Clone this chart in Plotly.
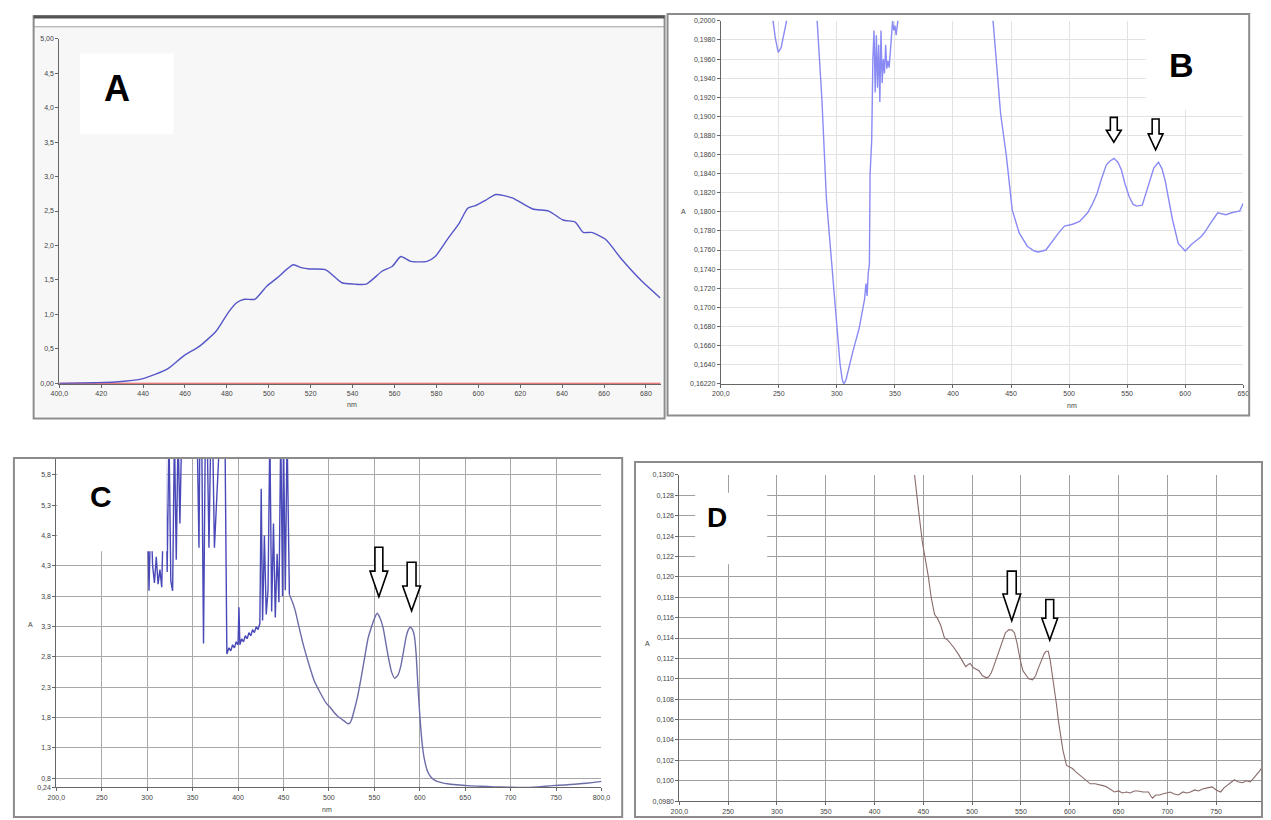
import plotly.graph_objects as go

W, H = 1271, 820

# ---------------- Panel A data ----------------
A_nm = [400, 417, 426.5, 440, 451.7, 459.4, 467, 474.9, 480.7, 484.6,
        488.4, 493.3, 499, 504, 511.6, 515.5, 519.4, 527, 534.9, 540.7,
        546.5, 554.2, 559, 563, 567.8, 575.5, 579.4, 585.2, 591, 594.9,
        598.7, 603.6, 608.4, 616.2, 625.9, 633.6, 640.4, 646.2, 650.1, 654,
        660.7, 668.4, 678.1, 686.8]
A_abs = [0, 0.01, 0.02, 0.07, 0.21, 0.40, 0.54, 0.76, 1.03, 1.17,
         1.22, 1.22, 1.41, 1.53, 1.72, 1.68, 1.66, 1.65, 1.46, 1.44,
         1.44, 1.63, 1.70, 1.84, 1.77, 1.77, 1.84, 2.09, 2.33, 2.54,
         2.58, 2.66, 2.74, 2.69, 2.53, 2.50, 2.37, 2.34, 2.19, 2.19,
         2.09, 1.80, 1.48, 1.24]
A_base_nm = [400, 687]
A_base_abs = [0, 0]
A_xticks = [400, 420, 440, 460, 480, 500, 520, 540, 560, 580, 600, 620, 640, 660, 680]
A_xtext = ["400,0", "420", "440", "460", "480", "500", "520", "540", "560", "580",
           "600", "620", "640", "660", "680"]
A_yticks = [0, 0.5, 1.0, 1.5, 2.0, 2.5, 3.0, 3.5, 4.0, 4.5, 5.0]
A_ytext = ["0,00", "0,5", "1,0", "1,5", "2,0", "2,5", "3,0", "3,5", "4,0", "4,5", "5,00"]

# ---------------- Panel B data ----------------
B_nm = [200, 240, 245, 247, 249.5, 252, 255, 257, 262, 278,
        283, 287, 291, 295, 298, 300.5, 302.6, 304.5, 306, 308,
        310.7, 314, 319, 321.5, 323.8, 325, 326, 327, 328, 328.6,
        329.5, 330, 331, 332, 333, 334, 335, 336, 337, 338,
        339, 340, 341, 342, 343, 344, 345, 346, 347, 348,
        349, 350, 351, 352, 353, 355, 360, 400, 430, 434.5,
        438, 441, 446, 451, 457, 464, 470, 473.6, 480, 486.6,
        491, 496, 503, 509, 516, 520, 524, 528, 532, 535,
        538.7, 542, 545, 548, 551.7, 555, 558, 563, 566, 569.6,
        573, 577, 580, 582.7, 586, 589, 594, 600, 605.5, 610,
        613.6, 617, 620, 624, 628, 632, 635, 640, 643, 647,
        650]
B_abs = [0.21, 0.21, 0.2000, 0.1982, 0.1967, 0.1972, 0.1990, 0.2002, 0.21, 0.21,
         0.2000, 0.1920, 0.1813, 0.1755, 0.1712, 0.1675, 0.1642, 0.1625, 0.1619, 0.1625,
         0.1640, 0.1655, 0.1677, 0.1692, 0.1708, 0.1725, 0.1712, 0.1736, 0.1745, 0.1840,
         0.1860, 0.1875, 0.1960, 0.1990, 0.1925, 0.1985, 0.1930, 0.1975, 0.1915, 0.1990,
         0.1935, 0.1960, 0.1945, 0.1975, 0.1950, 0.1958, 0.1951, 0.1965, 0.1985, 0.2000,
         0.1990, 0.1995, 0.1985, 0.1998, 0.2005, 0.21, 0.21, 0.21, 0.21, 0.2000,
         0.1950, 0.1903, 0.1858, 0.1802, 0.1778, 0.1764, 0.1759, 0.1758, 0.1760, 0.1771,
         0.1778, 0.1785, 0.1787, 0.1790, 0.1799, 0.1808, 0.1819, 0.1835, 0.1849, 0.1853,
         0.1856, 0.1852, 0.1844, 0.1830, 0.1816, 0.1808, 0.1806, 0.1807, 0.1818, 0.1833,
         0.1846, 0.1852, 0.1845, 0.1833, 0.1810, 0.1792, 0.1767, 0.1759, 0.1766, 0.1770,
         0.1774, 0.1779, 0.1785, 0.1792, 0.1799, 0.1798, 0.1797, 0.1799, 0.1800, 0.1801,
         0.1809]
B_xticks = [200, 250, 300, 350, 400, 450, 500, 550, 600, 650]
B_xtext = ["200,0", "250", "300", "350", "400", "450", "500", "550", "600", "650"]
B_yticks = [0.162 + 0.002 * i for i in range(20)]
B_ytext = ["0,16220", "0,1640", "0,1660", "0,1680", "0,1700", "0,1720", "0,1740",
           "0,1760", "0,1780", "0,1800", "0,1820", "0,1840", "0,1860", "0,1880",
           "0,1900", "0,1920", "0,1940", "0,1960", "0,1980", "0,2000"]
B_arrow_nm = [538.5, 574.5]
B_arrow_tip = [0.1873, 0.1865]

# ---------------- Panel C data ----------------
C_uv_nm = [300, 302, 304, 306, 308, 310, 312, 314, 316, 318,
           320, 322, 324, 326, 328, 330, 332, 334, 336, 338,
           342, 350, 355, 357, 358, 360, 362, 364, 366, 368,
           370, 372, 374, 380, 385.6, 387.7, 390, 392, 394, 396,
           398, 400, 401, 402, 404, 406, 408, 410, 412, 414,
           416, 418, 420, 422, 424, 425.5, 427, 429, 431, 433,
           435, 437, 439, 441, 443, 445, 447, 449, 450, 452,
           454, 456.5]
C_uv_abs = [5.5, 3.89, 5.2, 4.3, 4.02, 4.45, 4.0, 4.24, 3.95, 5.8,
            6.5, 4.2, 6.5, 4.05, 3.89, 6.5, 4.4, 6.5, 5.0, 6.5,
            6.5, 6.5, 6.5, 4.6, 6.5, 6.5, 3.02, 6.5, 6.5, 4.6,
            6.5, 6.5, 4.6, 6.5, 6.5, 2.85, 2.95, 2.9, 3.0, 2.95,
            3.05, 3.0, 3.62, 3.0, 3.1, 3.05, 3.15, 3.1, 3.2, 3.15,
            3.25, 3.2, 3.3, 3.25, 3.35, 5.57, 3.4, 4.8, 3.5, 3.9,
            6.5, 3.55, 5.0, 3.45, 4.5, 3.7, 6.5, 3.8, 6.5, 3.9,
            6.5, 3.83]
C_vis_nm = [456.5, 460, 463, 467, 471.5, 476, 480, 484, 488.7,
            493, 497, 502, 506, 510, 514.5, 518, 521, 523, 525,
            528, 531.6, 536, 540, 543, 546.7, 550, 553, 556, 559.5,
            563, 566, 569, 572.5, 576, 579, 582, 585, 587.5, 589.6,
            592, 594, 596, 598, 600, 602.5, 605, 609, 613, 617.6,
            624, 630.5, 640, 652, 667, 682, 697, 712, 730, 746,
            760, 776, 790, 800]
C_vis_abs = [3.83, 3.7, 3.56, 3.3, 3.02, 2.78, 2.58, 2.4, 2.26,
             2.14, 2.04, 1.96, 1.88, 1.82, 1.77, 1.73, 1.70, 1.71, 1.77,
             1.93, 2.15, 2.5, 2.85, 3.1, 3.29, 3.43, 3.52, 3.45, 3.29,
             3.0, 2.75, 2.55, 2.45, 2.5, 2.64, 2.88, 3.13, 3.25, 3.29,
             3.25, 3.15, 2.85, 2.31, 1.85, 1.39, 1.12, 0.90, 0.81, 0.76,
             0.73, 0.71, 0.695, 0.68, 0.67, 0.66, 0.655, 0.65, 0.66, 0.68,
             0.69, 0.71, 0.73, 0.75]
C_xticks = [200, 250, 300, 350, 400, 450, 500, 550, 600, 650, 700, 750, 800]
C_xtext = ["200,0", "250", "300", "350", "400", "450", "500", "550", "600", "650",
           "700", "750", "800,0"]
C_yticks = [0.653, 0.8, 1.3, 1.8, 2.3, 2.8, 3.3, 3.8, 4.3, 4.8, 5.3, 5.8]
C_ytext = ["0,24", "0,8", "1,3", "1,8", "2,3", "2,8", "3,3", "3,8", "4,3", "4,8", "5,3", "5,8"]
C_arrow_nm = [555, 591]
C_arrow_tip = [3.79, 3.56]

# ---------------- Panel D data ----------------
D_nm = [430, 441, 445, 449, 455, 458, 461.5, 464, 467.6, 471.7,
        475, 477.8, 481, 486, 489, 493.4, 496, 498, 501, 504.5,
        507, 510.6, 514.7, 517, 519.6, 522, 525, 528, 531, 534,
        537.3, 540.6, 543.4, 546, 549.6, 552, 555.7, 558, 561.9, 565,
        568, 571, 574, 576, 578, 580, 582.3, 584, 586.4, 588.5,
        590.5, 593, 596.7, 599, 602.8, 606, 611, 615, 621, 626,
        631.5, 635, 637.6, 641, 645.8, 650, 654, 658, 662, 666,
        670, 675, 680.7, 683, 684.8, 688, 692, 695, 699, 703,
        707, 711.4, 716, 720, 723.7, 728, 732, 736, 741, 746,
        750, 754.6, 758, 763, 768.8, 772, 777, 781, 785, 788,
        791, 794, 797]
D_abs = [0.135, 0.1300, 0.1266, 0.1234, 0.1201, 0.1180, 0.1163, 0.1160, 0.1153, 0.1140,
         0.1138, 0.1135, 0.1131, 0.1124, 0.1119, 0.1112, 0.1114, 0.1115, 0.1111, 0.1109,
         0.1108, 0.1103, 0.1101, 0.1102, 0.1106, 0.1112, 0.1120, 0.1130, 0.1138, 0.1145,
         0.1148, 0.1148, 0.1145, 0.1135, 0.1117, 0.1108, 0.1103, 0.1100, 0.1099, 0.1103,
         0.1111, 0.1119, 0.1125, 0.1127, 0.1127, 0.1118, 0.1104, 0.1090, 0.1075, 0.1058,
         0.1043, 0.1030, 0.1015, 0.1014, 0.1012, 0.1009, 0.1005, 0.1001, 0.0997, 0.0997,
         0.0996, 0.0995, 0.0994, 0.0992, 0.0989, 0.0990, 0.0988, 0.0989, 0.0988, 0.0990,
         0.0990, 0.0989, 0.0989, 0.0985, 0.0983, 0.0986, 0.0986, 0.0987, 0.0988, 0.0989,
         0.0987, 0.0986, 0.0989, 0.0988, 0.0989, 0.0991, 0.0990, 0.0992, 0.0993, 0.0994,
         0.0991, 0.0989, 0.0993, 0.0997, 0.1001, 0.0999, 0.0998, 0.1000, 0.0999, 0.1002,
         0.1005, 0.1009, 0.1013]
D_xticks = [200, 250, 300, 350, 400, 450, 500, 550, 600, 650, 700, 750]
D_xtext = ["200,0", "250", "300", "350", "400", "450", "500", "550", "600", "650", "700", "750"]
D_yticks = [0.098 + 0.002 * i for i in range(17)]
D_ytext = ["0,0980", "0,100", "0,102", "0,104", "0,106", "0,108", "0,110", "0,112",
           "0,114", "0,116", "0,118", "0,120", "0,122", "0,124", "0,126", "0,128", "0,1300"]
D_arrow_nm = [540.6, 579.5]
D_arrow_tip = [0.1157, 0.1138]


# ---------------- helpers ----------------
def fx(px):
    return px / W


def fy(py):
    return 1 - py / H


# plot-area boxes in pixels: (left, right, top, bottom)
boxA = (51, 661, 35, 383)
boxB = (722, 1252, 17, 383)
boxC = (48, 601, 459, 790)
boxD = (680, 1271, 475, 804)

rngA = ([400, 687], [-0.005, 5.0])
rngB = ([200, 650], [0.162, 0.2])
rngC = ([200, 800], [0.653, 6.06])
rngD = ([200, 797], [0.098, 0.130])

tickfont = dict(size=7, color="#444", family="Liberation Sans")


def xax(box, rng, ticks, text, anchor, grid, gridcolor="#ddd"):
    return dict(domain=[fx(box[0]), fx(box[1])], range=rng, tickvals=ticks, ticktext=text,
                anchor=anchor, showgrid=grid, gridcolor=gridcolor, gridwidth=1,
                showline=True, linecolor="#666", linewidth=1, ticks="outside", ticklen=3,
                tickcolor="#666", tickfont=tickfont, zeroline=False, fixedrange=True)


def yax(box, rng, ticks, text, anchor, grid, gridcolor="#ddd"):
    return dict(domain=[fy(box[3]), fy(box[2])], range=rng, tickvals=ticks, ticktext=text,
                anchor=anchor, showgrid=grid, gridcolor=gridcolor, gridwidth=1,
                showline=True, linecolor="#666", linewidth=1, ticks="outside", ticklen=3,
                tickcolor="#666", tickfont=tickfont, zeroline=False, fixedrange=True)


fig = go.Figure()
fig.add_trace(go.Scatter(x=A_base_nm, y=A_base_abs, mode="lines", xaxis="x", yaxis="y",
                         line=dict(color="#e05050", width=1.5), showlegend=False, hoverinfo="skip"))
fig.add_trace(go.Scatter(x=A_nm, y=A_abs, mode="lines", xaxis="x", yaxis="y",
                         line=dict(color="#5656c8", width=1.4, shape="spline", smoothing=0.6),
                         showlegend=False, hoverinfo="skip"))
fig.add_trace(go.Scatter(x=B_nm, y=B_abs, mode="lines", xaxis="x2", yaxis="y2",
                         line=dict(color="#8a8af5", width=1.4), showlegend=False, hoverinfo="skip"))
fig.add_trace(go.Scatter(x=C_uv_nm, y=C_uv_abs, mode="lines", xaxis="x3", yaxis="y3",
                         line=dict(color="#4848b8", width=1.4), showlegend=False, hoverinfo="skip"))
fig.add_trace(go.Scatter(x=C_vis_nm, y=C_vis_abs, mode="lines", xaxis="x3", yaxis="y3",
                         line=dict(color="#6c6ca8", width=1.4, shape="spline", smoothing=0.5),
                         showlegend=False, hoverinfo="skip"))
fig.add_trace(go.Scatter(x=D_nm, y=D_abs, mode="lines", xaxis="x4", yaxis="y4",
                         line=dict(color="#8a6a6a", width=1.1), showlegend=False, hoverinfo="skip"))

shapes = []
# panel frames
frames = [(25, 12, 665, 418), (668, 10, 1258, 415), (5, 458, 622, 820), (635, 462, 1271, 820)]
for (x0, y0, x1, y1) in frames:
    shapes.append(dict(type="rect", xref="paper", yref="paper", x0=fx(x0), x1=fx(x1),
                       y0=fy(y1), y1=fy(y0), line=dict(color="#8c8c8c", width=2), layer="above"))
# A plot background and top bar
shapes.append(dict(type="rect", xref="paper", yref="paper", x0=fx(27), x1=fx(663), y0=fy(416),
                   y1=fy(24), fillcolor="#f7f7f7", line=dict(width=0), layer="below"))
shapes.append(dict(type="line", xref="paper", yref="paper", x0=fx(25), x1=fx(665), y0=fy(13),
                   y1=fy(13), line=dict(color="#555", width=3), layer="above"))
shapes.append(dict(type="line", xref="paper", yref="paper", x0=fx(25), x1=fx(665), y0=fy(23),
                   y1=fy(23), line=dict(color="#999", width=1), layer="above"))

# white label boxes
label_boxes = [(72, 50, 167, 131), (1153, 17, 1255, 107), (49, 459, 160, 552), (696, 493, 769, 565)]
for (x0, y0, x1, y1) in label_boxes:
    shapes.append(dict(type="rect", xref="paper", yref="paper", x0=fx(x0), x1=fx(x1),
                       y0=fy(y1), y1=fy(y0), fillcolor="white", line=dict(width=0), layer="above"))


def arrow_shape(xc, ytip, box, rng, xr, yr, length, head_len, head_w, shaft_w):
    ux = (rng[0][1] - rng[0][0]) / (box[1] - box[0])
    uy = (rng[1][1] - rng[1][0]) / (box[3] - box[2])
    top = ytip + length * uy
    neck = ytip + head_len * uy
    pts = [(xc - shaft_w / 2 * ux, top), (xc + shaft_w / 2 * ux, top),
           (xc + shaft_w / 2 * ux, neck), (xc + head_w / 2 * ux, neck), (xc, ytip),
           (xc - head_w / 2 * ux, neck), (xc - shaft_w / 2 * ux, neck)]
    path = "M " + " L ".join(f"{p[0]},{p[1]}" for p in pts) + " Z"
    return dict(type="path", path=path, xref=xr, yref=yr, fillcolor="white",
                line=dict(color="black", width=1.6), layer="above")


for xc, yt, L, hl, hw, sw in zip(B_arrow_nm, B_arrow_tip, [25, 31], [12, 16], [15, 15], [7, 7]):
    shapes.append(arrow_shape(xc, yt, boxB, rngB, "x2", "y2", L, hl, hw, sw))
for xc, yt, L, hl, hw, sw in zip(C_arrow_nm, C_arrow_tip, [50, 49], [26, 25], [18, 18], [8, 9]):
    shapes.append(arrow_shape(xc, yt, boxC, rngC, "x3", "y3", L, hl, hw, sw))
for xc, yt, L, hl, hw, sw in zip(D_arrow_nm, D_arrow_tip, [50, 41], [27, 22], [18, 16], [9, 8]):
    shapes.append(arrow_shape(xc, yt, boxD, rngD, "x4", "y4", L, hl, hw, sw))

annotations = []
# panel letters
letters = [("A", 110, 85, 36), ("B", 1189, 62, 34), ("C", 93, 497, 30), ("D", 718, 518, 28)]
for t, x, y, s in letters:
    annotations.append(dict(text=f"<b>{t}</b>", x=fx(x), y=fy(y), xref="paper", yref="paper",
                            showarrow=False, xanchor="center", yanchor="middle",
                            font=dict(size=s, color="black", family="Liberation Sans")))
# axis titles
titles = [("nm", 348, 404), ("A", 684, 209), ("nm", 1078, 405), ("A", 22, 626),
          ("nm", 323, 812), ("A", 648, 645)]
for t, x, y in titles:
    annotations.append(dict(text=t, x=fx(x), y=fy(y), xref="paper", yref="paper",
                            showarrow=False, xanchor="center", yanchor="middle",
                            font=dict(size=7, color="#444", family="Liberation Sans")))

fig.update_layout(
    autosize=True, margin=dict(l=0, r=0, t=0, b=0, pad=0),
    paper_bgcolor="white", plot_bgcolor="rgba(0,0,0,0)",
    hovermode=False,
    xaxis=xax(boxA, rngA[0], A_xticks, A_xtext, "y", False),
    yaxis=yax(boxA, rngA[1], A_yticks, A_ytext, "x", False),
    xaxis2=xax(boxB, rngB[0], B_xticks, B_xtext, "y2", True, "#e2e2e2"),
    yaxis2=yax(boxB, rngB[1], B_yticks, B_ytext, "x2", True, "#e2e2e2"),
    xaxis3=xax(boxC, rngC[0], C_xticks, C_xtext, "y3", True, "#a8a8a8"),
    yaxis3=yax(boxC, rngC[1], C_yticks, C_ytext, "x3", True, "#a8a8a8"),
    xaxis4=xax(boxD, rngD[0], D_xticks, D_xtext, "y4", True, "#a0a0a0"),
    yaxis4=yax(boxD, rngD[1], D_yticks, D_ytext, "x4", True, "#a0a0a0"),
    shapes=shapes, annotations=annotations,
)

post = """
document.documentElement.style.margin='0';
document.documentElement.style.padding='0';
document.documentElement.style.overflow='hidden';
document.body.style.margin='0';
document.body.style.padding='0';
document.body.style.overflow='hidden';
var gd = document.getElementById('{plot_id}');
gd.style.position='fixed'; gd.style.left='0px'; gd.style.top='0px';
gd.style.width='100vw'; gd.style.height='100vh';
Plotly.relayout(gd, {width: window.innerWidth, height: window.innerHeight});
"""

fig.write_html("out.html", config={"displayModeBar": False, "staticPlot": True},
               default_width="100vw", default_height="100vh", post_script=post)
